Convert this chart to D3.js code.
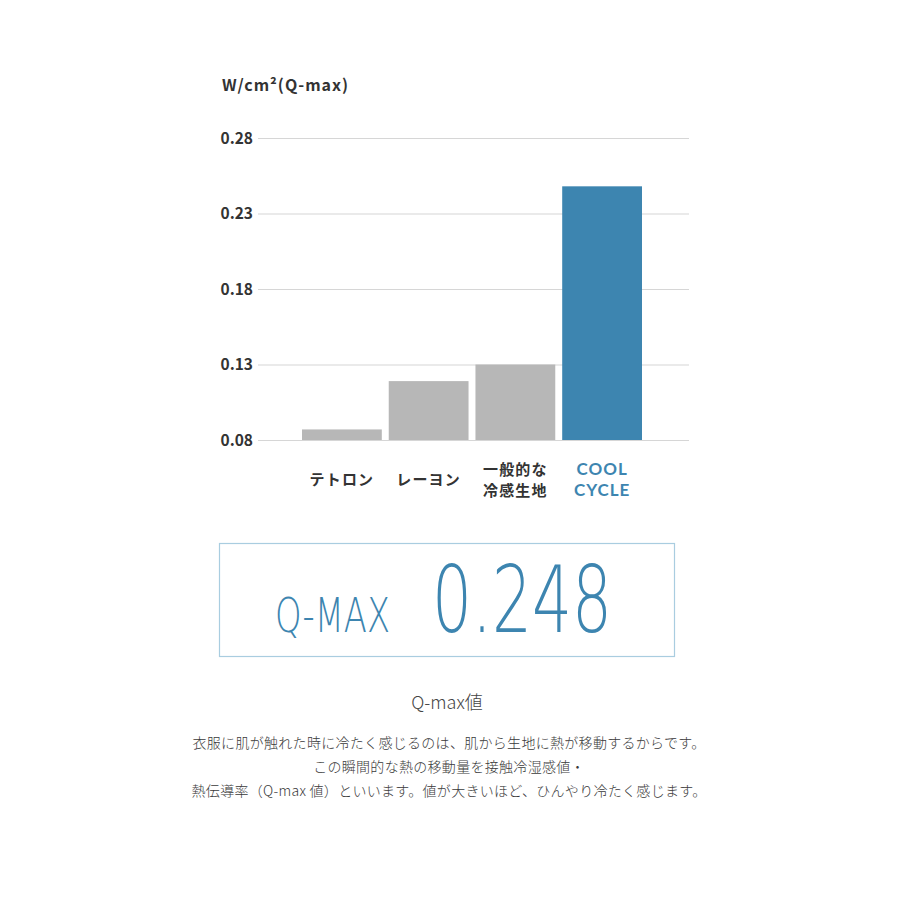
<!DOCTYPE html>
<html>
<head>
<meta charset="utf-8">
<script src="https://cdn.jsdelivr.net/npm/d3@7"></script>
<style>
  body { margin: 0; background: #fff; }
  svg { display: block; }
</style>
</head>
<body>
<svg width="900" height="900"></svg>
<script>
let svg = d3.select("svg");

// data
let categories = ["テトロン", "レーヨン", "一般的な\n冷感生地", "COOL\nCYCLE"];
let values = [0.087, 0.119, 0.130, 0.248];
let ticks = [0.08, 0.13, 0.18, 0.23, 0.28];
let yTitle = "W/cm²(Q-max)";
let boxLabel = "Q-MAX";
let boxValue = "0.248";
let noteTitle = "Q-max値";
let noteLines = [
  "衣服に肌が触れた時に冷たく感じるのは、肌から生地に熱が移動するからです。",
  "この瞬間的な熱の移動量を接触冷湿感値・",
  "熱伝導率（Q-max 値）といいます。値が大きいほど、ひんやり冷たく感じます。"
];

let blue = "#3d85b0";
let grey = "#b7b7b7";
let font = "'Noto Sans CJK JP', sans-serif";

//scales
let y = d3.scaleLinear().domain([0.08, 0.28]).range([440, 138]);
let x = d3.scaleBand().domain(categories).range([302, 642]).paddingInner(0.08);

//grid
let yAxis = svg.append("g")
  .attr("transform", "translate(258,0)")
  .call(d3.axisLeft(y).tickValues(ticks).tickSize(-431).tickPadding(5).tickFormat(d3.format(".2f")));
yAxis.select(".domain").remove();
yAxis.selectAll(".tick line").attr("stroke", "#d6d6d6").attr("stroke-width", 1.2);
yAxis.selectAll(".tick text")
  .attr("fill", "#333")
  .attr("dy", "0.35em")
  .style("font", "bold 15.5px " + font);

svg.append("text")
  .attr("x", 222).attr("y", 91)
  .attr("fill", "#333")
  .attr("letter-spacing", 1)
  .style("font", "bold 16px " + font)
  .text(yTitle);

//bars
svg.selectAll("rect.bar")
  .data(values)
  .enter()
  .append("rect")
  .attr("class", "bar")
  .attr("x", (d, i) => x(categories[i]))
  .attr("width", x.bandwidth())
  .attr("y", d => y(d))
  .attr("height", d => y(0.08) - y(d))
  .attr("fill", (d, i) => (i === 3 ? blue : grey));

//category labels
categories.forEach((c, i) => {
  let parts = c.split("\n");
  let t = svg.append("text")
    .attr("text-anchor", "middle")
    .attr("fill", i === 3 ? blue : "#333")
    .style("font", i === 3 ? "bold 17px Lato, sans-serif" : "bold 15px " + font);
  parts.forEach((p, j) => {
    t.append("tspan")
      .attr("x", x(c) + x.bandwidth() / 2)
      .attr("y", parts.length === 1 ? 485 : 475 + j * 21)
      .attr("letter-spacing", i < 3 ? 1.2 : 1)
      .text(p);
  });
});

//value box
svg.append("rect")
  .attr("x", 219.5).attr("y", 543.5)
  .attr("width", 455).attr("height", 113)
  .attr("fill", "none")
  .attr("stroke", "#a9cde0")
  .attr("stroke-width", 1.2);

svg.append("text")
  .attr("x", 275).attr("y", 632)
  .attr("textLength", 115).attr("lengthAdjust", "spacingAndGlyphs")
  .attr("fill", blue)
  .style("font", "200 48px 'DejaVu Sans', sans-serif")
  .text(boxLabel);

svg.append("text")
  .attr("x", 432).attr("y", 632)
  .attr("textLength", 180).attr("lengthAdjust", "spacingAndGlyphs")
  .attr("fill", blue)
  .style("font", "200 92px 'DejaVu Sans', sans-serif")
  .text(boxValue);

//notes
svg.append("text")
  .attr("x", 447).attr("y", 709)
  .attr("text-anchor", "middle")
  .attr("fill", "#444")
  .style("font", "300 18px " + font)
  .text(noteTitle);

svg.selectAll("text.note")
  .data(noteLines)
  .enter()
  .append("text")
  .attr("class", "note")
  .attr("x", 449)
  .attr("y", (d, i) => 748 + i * 24)
  .attr("text-anchor", "middle")
  .attr("fill", "#3a3a3a")
  .attr("letter-spacing", 0.3)
  .style("font", "300 14px " + font)
  .text(d => d);
</script>
</body>
</html>
